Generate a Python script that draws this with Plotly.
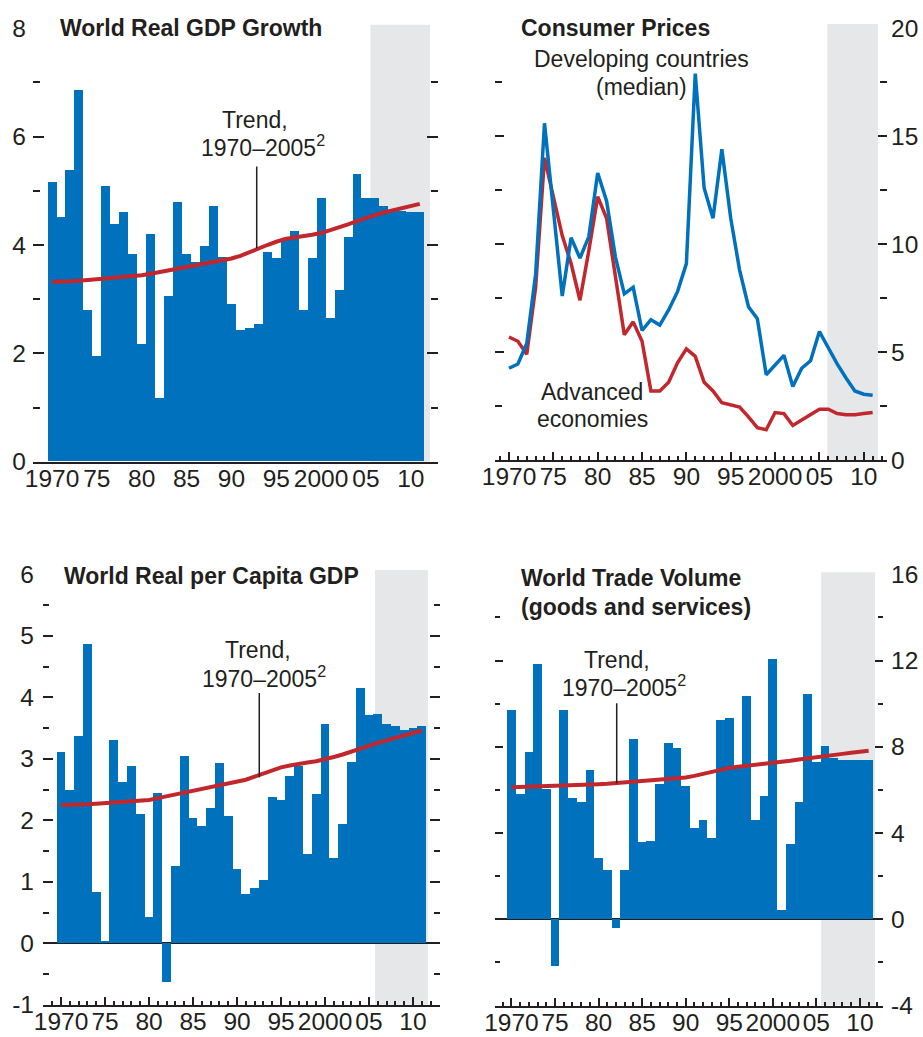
import plotly.graph_objects as go

# ---------------- data ----------------
years = list(range(1970, 2012))

gdp_growth = [5.16, 4.52, 5.37, 6.86, 2.80, 1.94, 5.09, 4.38, 4.60, 3.83,
              2.17, 4.20, 1.17, 3.06, 4.79, 3.83, 3.68, 3.98, 4.72, 3.78,
              2.90, 2.43, 2.46, 2.54, 3.86, 3.75, 4.09, 4.26, 2.80, 3.75,
              4.86, 2.65, 3.17, 4.15, 5.30, 4.86, 4.86, 4.72, 4.62, 4.62,
              4.60, 4.60]
gdp_trend = [3.32, 3.32, 3.33, 3.34, 3.35, 3.37, 3.38, 3.40, 3.41, 3.42,
             3.44, 3.47, 3.50, 3.53, 3.56, 3.59, 3.62, 3.65, 3.68, 3.71,
             3.75, 3.80, 3.87, 3.94, 4.00, 4.06, 4.11, 4.14, 4.16, 4.19,
             4.22, 4.27, 4.32, 4.38, 4.44, 4.50, 4.55, 4.60, 4.64, 4.68,
             4.72, 4.76]

cpi_developing = [4.25, 4.45, 5.4, 8.6, 15.6, 11.7, 7.6, 10.3, 9.35, 10.35,
                  13.3, 12.0, 9.4, 7.7, 8.0, 6.0, 6.5, 6.25, 6.95, 7.8,
                  9.1, 17.9, 12.6, 11.2, 14.4, 11.2, 8.8, 7.1, 6.55, 3.95,
                  4.4, 4.85, 3.4, 4.25, 4.6, 5.95, 5.2, 4.45, 3.8, 3.2,
                  3.05, 3.0]
cpi_advanced = [5.7, 5.5, 4.9, 8.0, 14.0, 12.2, 10.4, 9.1, 7.4, 9.7,
                12.2, 11.2, 8.6, 5.8, 6.4, 5.5, 3.2, 3.2, 3.6, 4.5,
                5.15, 4.8, 3.6, 3.2, 2.65, 2.55, 2.45, 2.0, 1.5, 1.4,
                2.2, 2.15, 1.6, 1.85, 2.1, 2.35, 2.35, 2.15, 2.1, 2.1,
                2.15, 2.2]

per_capita = [3.10, 2.48, 3.36, 4.86, 0.83, 0.04, 3.30, 2.61, 2.87, 2.09,
              0.43, 2.44, -0.63, 1.25, 3.04, 2.03, 1.90, 2.20, 2.93, 2.06,
              1.21, 0.80, 0.89, 1.02, 2.38, 2.33, 2.71, 2.87, 1.45, 2.42,
              3.56, 1.38, 1.93, 2.94, 4.15, 3.70, 3.72, 3.56, 3.53, 3.46,
              3.49, 3.53]
per_capita_trend = [2.25, 2.25, 2.26, 2.26, 2.27, 2.28, 2.28, 2.29, 2.30, 2.31,
                    2.33, 2.36, 2.39, 2.42, 2.45, 2.48, 2.51, 2.54, 2.56, 2.59,
                    2.62, 2.66, 2.71, 2.76, 2.81, 2.86, 2.89, 2.92, 2.94, 2.96,
                    2.99, 3.03, 3.07, 3.12, 3.17, 3.21, 3.26, 3.30, 3.34, 3.38,
                    3.42, 3.46]

trade_volume = [9.68, 5.80, 7.73, 11.81, 6.03, -2.19, 9.68, 5.60, 5.41, 6.89,
                2.81, 2.26, -0.42, 2.26, 8.36, 3.55, 3.63, 6.24, 8.18, 7.91,
                6.15, 4.22, 4.57, 3.76, 9.21, 9.30, 7.10, 10.32, 4.61, 5.69,
                12.07, 0.40, 3.48, 5.41, 10.42, 7.28, 8.00, 7.45, 7.36, 7.36,
                7.36, 7.36]
trade_trend = [6.12, 6.13, 6.14, 6.15, 6.16, 6.17, 6.18, 6.20, 6.22, 6.24,
               6.26, 6.28, 6.31, 6.34, 6.37, 6.40, 6.43, 6.46, 6.50, 6.54,
               6.58, 6.65, 6.75, 6.86, 6.95, 7.02, 7.07, 7.11, 7.15, 7.19,
               7.23, 7.29, 7.35, 7.41, 7.47, 7.52, 7.57, 7.62, 7.67, 7.72,
               7.77, 7.82]

x_tick_vals = [1970, 1975, 1980, 1985, 1990, 1995, 2000, 2005, 2010]
x_tick_text = ["1970", "75", "80", "85", "90", "95", "2000", "05", "10"]

titles = ["World Real GDP Growth", "Consumer Prices",
          "World Real per Capita GDP", "World Trade Volume",
          "(goods and services)"]
trend_label = ["Trend,", "1970–2005<sup>2</sup>"]

# ---------------- styling ----------------
W, H = 923, 1037
BLUE = "#0071bc"
RED = "#c1272d"
DARK = "#231f20"
SHADE = "#e6e7e8"
FONT = "Liberation Sans, Arial, Helvetica, sans-serif"


def fx(px):
    return px / W


def fy(py):
    return 1 - py / H


fig = go.Figure()

# Panel 1
fig.add_trace(go.Bar(x=years, y=gdp_growth, width=1, marker=dict(color=BLUE, line=dict(width=0)),
                     xaxis="x", yaxis="y", showlegend=False))
fig.add_trace(go.Scatter(x=years, y=gdp_trend, mode="lines", line=dict(color=RED, width=4),
                         xaxis="x", yaxis="y", showlegend=False))
# Panel 2
fig.add_trace(go.Scatter(x=years, y=cpi_advanced, mode="lines", line=dict(color=RED, width=3.5),
                         xaxis="x2", yaxis="y2", showlegend=False))
fig.add_trace(go.Scatter(x=years, y=cpi_developing, mode="lines", line=dict(color=BLUE, width=3.5),
                         xaxis="x2", yaxis="y2", showlegend=False))
# Panel 3
fig.add_trace(go.Bar(x=years, y=per_capita, width=1, marker=dict(color=BLUE, line=dict(width=0)),
                     xaxis="x3", yaxis="y3", showlegend=False))
fig.add_trace(go.Scatter(x=years, y=per_capita_trend, mode="lines", line=dict(color=RED, width=4),
                         xaxis="x3", yaxis="y3", showlegend=False))
# Panel 4
fig.add_trace(go.Bar(x=years, y=trade_volume, width=1, marker=dict(color=BLUE, line=dict(width=0)),
                     xaxis="x4", yaxis="y4", showlegend=False))
fig.add_trace(go.Scatter(x=years, y=trade_trend, mode="lines", line=dict(color=RED, width=4),
                         xaxis="x4", yaxis="y4", showlegend=False))

tickfont = dict(family=FONT, size=24.5, color=DARK)

panels = {
    # name: (xpx0, xpx1, ypx_top, ypx_bottom, xrange, yrange)
    "1": (33, 438, 28.3, 461.7, [1967.88, 2013.03], [0, 8]),
    "2": (495, 887, 28.3, 460.0, [1968.42, 2012.62], [0, 20]),
    "3": (43, 440, 574.3, 1004.8, [1967.95, 2013.07], [-1, 6]),
    "4": (495, 883, 574.3, 1005.5, [1968.11, 2012.65], [-4, 16]),
}

yspec = {
    "1": dict(side="left", vals=[0, 2, 4, 6, 8], len=11, minor=1, minlen=7, standoff=6, zero=False),
    "2": dict(side="right", vals=[0, 5, 10, 15, 20], len=9, minor=2.5, minlen=7, standoff=3, zero=False),
    "3": dict(side="left", vals=[-1, 0, 1, 2, 3, 4, 5, 6], len=10, minor=0.5, minlen=6, standoff=8, zero=True),
    "4": dict(side="right", vals=[-4, 0, 4, 8, 12, 16], len=8, minor=2, minlen=5, standoff=7, zero=True),
}

layout_axes = {}
for k, (x0, x1, yt, yb, xr, yr) in panels.items():
    xs = "xaxis" if k == "1" else f"xaxis{k}"
    ys = "yaxis" if k == "1" else f"yaxis{k}"
    yanchor = "y" if k == "1" else f"y{k}"
    xanchor = "x" if k == "1" else f"x{k}"
    xa = dict(domain=[fx(x0), fx(x1)], range=xr, anchor=yanchor, showgrid=False, zeroline=False,
              automargin=False,
              showline=True, linecolor=DARK, linewidth=1.5,
              tickmode="array", tickvals=x_tick_vals, ticktext=x_tick_text, tickangle=0,
              tickfont=tickfont, ticklabelstandoff=-6)
    if k == "1":
        xa.update(ticks="")
    else:
        xa.update(ticks="inside", ticklen=8, tickwidth=1.5, tickcolor=DARK,
                  minor=dict(ticks="inside", ticklen=4, tickwidth=1.5, tickcolor=DARK,
                             tickmode="linear", tick0=1970, dtick=1))
    s = yspec[k]
    ya = dict(domain=[fy(yb), fy(yt)], range=yr, anchor=xanchor, side=s["side"], showgrid=False,
              automargin=False,
              showline=False, zeroline=s["zero"], zerolinecolor=DARK, zerolinewidth=1.5,
              tickmode="array", tickvals=s["vals"], ticktext=[str(v) for v in s["vals"]],
              ticks="inside", ticklen=s["len"], tickwidth=1.5, tickcolor=DARK, mirror="ticks",
              minor=dict(ticks="inside", ticklen=s["minlen"], tickwidth=1.5, tickcolor=DARK,
                         tickmode="linear", tick0=yr[0], dtick=s["minor"]),
              tickfont=tickfont, ticklabelstandoff=s["standoff"])
    layout_axes[xs] = xa
    layout_axes[ys] = ya

shapes = []
shade_spec = [("x", "y", 2005.5, 2012.14, 1.008),
              ("x2", "y2", 2005.9, 2011.6, 1.01),
              ("x3", "y3", 2005.68, 2011.7, 1.01),
              ("x4", "y4", 2005.55, 2011.73, 1.005)]
for xr_, yr_, a, b, top in shade_spec:
    shapes.append(dict(type="rect", xref=xr_, yref=f"{yr_} domain", x0=a, x1=b, y0=0, y1=top,
                       fillcolor=SHADE, line=dict(width=0), layer="below"))

# leader lines for trend labels
leaders = [("x", "y", 1992.82, 3.94, 5.45),
           ("x3", "y3", 1992.53, 2.70, 4.07),
           ("x4", "y4", 1982.08, 6.31, 10.02)]
for xr_, yr_, xv, y0, y1 in leaders:
    shapes.append(dict(type="line", xref=xr_, yref=yr_, x0=xv, x1=xv, y0=y0, y1=y1,
                       line=dict(color=DARK, width=1.5)))

annot = []


def txt(text, xpx, ypx, size=23, bold=False, xanchor="center"):
    annot.append(dict(text=f"<b>{text}</b>" if bold else text, x=fx(xpx), y=fy(ypx),
                      xref="paper", yref="paper", xanchor=xanchor, yanchor="middle",
                      showarrow=False, font=dict(family=FONT, size=size, color=DARK)))


txt(titles[0], 58, 28, bold=True, xanchor="left")
txt(titles[1], 519, 28, bold=True, xanchor="left")
txt(titles[2], 62, 576, bold=True, xanchor="left")
txt(titles[3], 519, 578, bold=True, xanchor="left")
txt(titles[4], 519, 607, bold=True, xanchor="left")

txt(trend_label[0], 255.5, 120)
txt(trend_label[1], 262.5, 146)
txt(trend_label[0], 257.5, 650)
txt(trend_label[1], 264, 677)
txt(trend_label[0], 616.7, 660)
txt(trend_label[1], 624, 686)

txt("Developing countries", 641.5, 59)
txt("(median)", 641, 87)
txt("Advanced", 592, 392)
txt("economies", 592, 419)

fig.update_layout(
    width=W, height=H,
    margin=dict(l=0, r=0, t=0, b=0),
    paper_bgcolor="white", plot_bgcolor="rgba(0,0,0,0)",
    bargap=0, barmode="overlay",
    shapes=shapes, annotations=annot,
    font=dict(family=FONT, color=DARK),
    **layout_axes,
)

fig.write_html(
    "out.html",
    config={"displayModeBar": False},
    post_script="document.body.style.margin='0';document.body.style.overflow='hidden';"
                "document.documentElement.style.overflow='hidden';",
)
